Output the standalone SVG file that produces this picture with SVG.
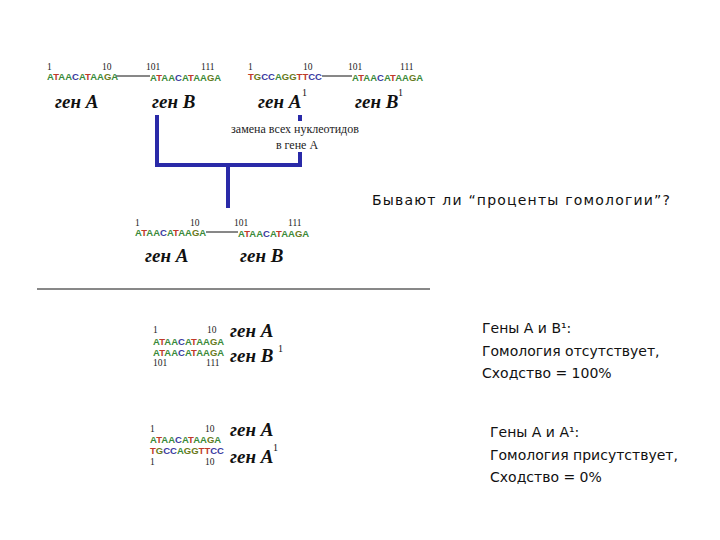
<svg xmlns="http://www.w3.org/2000/svg" width="720" height="540" viewBox="0 0 720 540">
<style>
.n{font-family:"Liberation Serif",serif;font-size:9.5px;fill:#222}
.s{font-family:"Liberation Sans",sans-serif;font-size:9.5px;font-weight:bold}
.a{fill:#3a8a3a}.t{fill:#c03a2a}.c{fill:#3a3aa0}.g{fill:#6a7a20}
.gen{font-family:"Liberation Serif",serif;font-size:19px;font-style:italic;font-weight:bold;fill:#111}
.sup{font-family:"Liberation Serif",serif;font-size:10px;fill:#111}
.sm{font-family:"Liberation Serif",serif;font-size:12px;fill:#222}
.r{font-family:"DejaVu Sans",sans-serif;font-size:14px;fill:#111}
.thin{stroke:#111;stroke-width:1}
.blue{stroke:#2a2aa8;stroke-width:4;fill:none}
</style>
<defs>
<text id="sa" class="s"><tspan class="a">A</tspan><tspan class="t">T</tspan><tspan class="a">AA</tspan><tspan class="c">C</tspan><tspan class="a">A</tspan><tspan class="t">T</tspan><tspan class="a">AA</tspan><tspan class="g">G</tspan><tspan class="a">A</tspan></text>
<text id="st" class="s"><tspan class="t">T</tspan><tspan class="g">G</tspan><tspan class="c">CC</tspan><tspan class="a">A</tspan><tspan class="g">GG</tspan><tspan class="t">TT</tspan><tspan class="c">CC</tspan></text>
</defs>
<g id="connectors">
<line class="thin" x1="116" y1="76" x2="150" y2="76"/>
<line class="thin" x1="322" y1="76" x2="352" y2="76"/>
<line class="thin" x1="206" y1="232" x2="238" y2="232"/>
<line class="thin" x1="37" y1="289" x2="430" y2="289"/>
<path class="blue" d="M157 115V165H300V152M300 121V115M228 165V208"/>
</g>
<g id="top-genA"><text class="n" x="47" y="70">1</text><text class="n" x="102" y="70">10</text><use href="#sa" x="47" y="80"/><text class="gen" x="55" y="108">ген A</text></g>
<g id="top-genB"><text class="n" x="146" y="70">101</text><text class="n" x="201" y="70">111</text><use href="#sa" x="150" y="81"/><text class="gen" x="152" y="108">ген B</text></g>
<g id="top-genA1"><text class="n" x="248" y="70">1</text><text class="n" x="303" y="70">10</text><use href="#st" x="248" y="80"/><text class="gen" x="258" y="108">ген A</text><text class="sup" x="302" y="96">1</text></g>
<g id="top-genB1"><text class="n" x="348" y="70">101</text><text class="n" x="400" y="70">111</text><use href="#sa" x="352" y="81"/><text class="gen" x="355" y="108">ген B</text><text class="sup" x="398" y="96">1</text></g>
<g id="label-replace"><text class="sm" x="295" y="133" text-anchor="middle">замена всех нуклеотидов</text><text class="sm" x="297" y="149" text-anchor="middle">в гене А</text></g>
<g id="mid-genA"><text class="n" x="135" y="226">1</text><text class="n" x="190" y="226">10</text><use href="#sa" x="135" y="236"/><text class="gen" x="145" y="262">ген A</text></g>
<g id="mid-genB"><text class="n" x="234" y="226">101</text><text class="n" x="288" y="226">111</text><use href="#sa" x="238" y="237"/><text class="gen" x="240" y="262">ген B</text></g>
<g id="question"><text class="r" x="372" y="205" letter-spacing="1.2">Бывают ли “проценты гомологии”?</text></g>
<g id="cmp1"><text class="n" x="153" y="333">1</text><text class="n" x="207" y="333">10</text><use href="#sa" x="153" y="345"/><use href="#sa" x="153" y="356"/><text class="n" x="153" y="366">101</text><text class="n" x="206" y="366">111</text><text class="gen" x="230" y="337">ген A</text><text class="gen" x="230" y="362">ген B</text><text class="sup" x="278" y="352">1</text></g>
<g id="cmp2"><text class="n" x="150" y="432">1</text><text class="n" x="205" y="432">10</text><use href="#sa" x="150" y="443"/><use href="#st" x="150" y="454"/><text class="n" x="150" y="465">1</text><text class="n" x="205" y="465">10</text><text class="gen" x="230" y="436">ген A</text><text class="gen" x="230" y="463">ген A</text><text class="sup" x="273" y="451">1</text></g>
<g id="text1"><text class="r" x="482" y="333">Гены  А  и В¹:</text><text class="r" x="482" y="356">Гомология отсутствует,</text><text class="r" x="482" y="378">Сходство = 100%</text></g>
<g id="text2"><text class="r" x="490" y="437">Гены  А  и А¹:</text><text class="r" x="490" y="460">Гомология присутствует,</text><text class="r" x="490" y="482">Сходство = 0%</text></g>
</svg>
